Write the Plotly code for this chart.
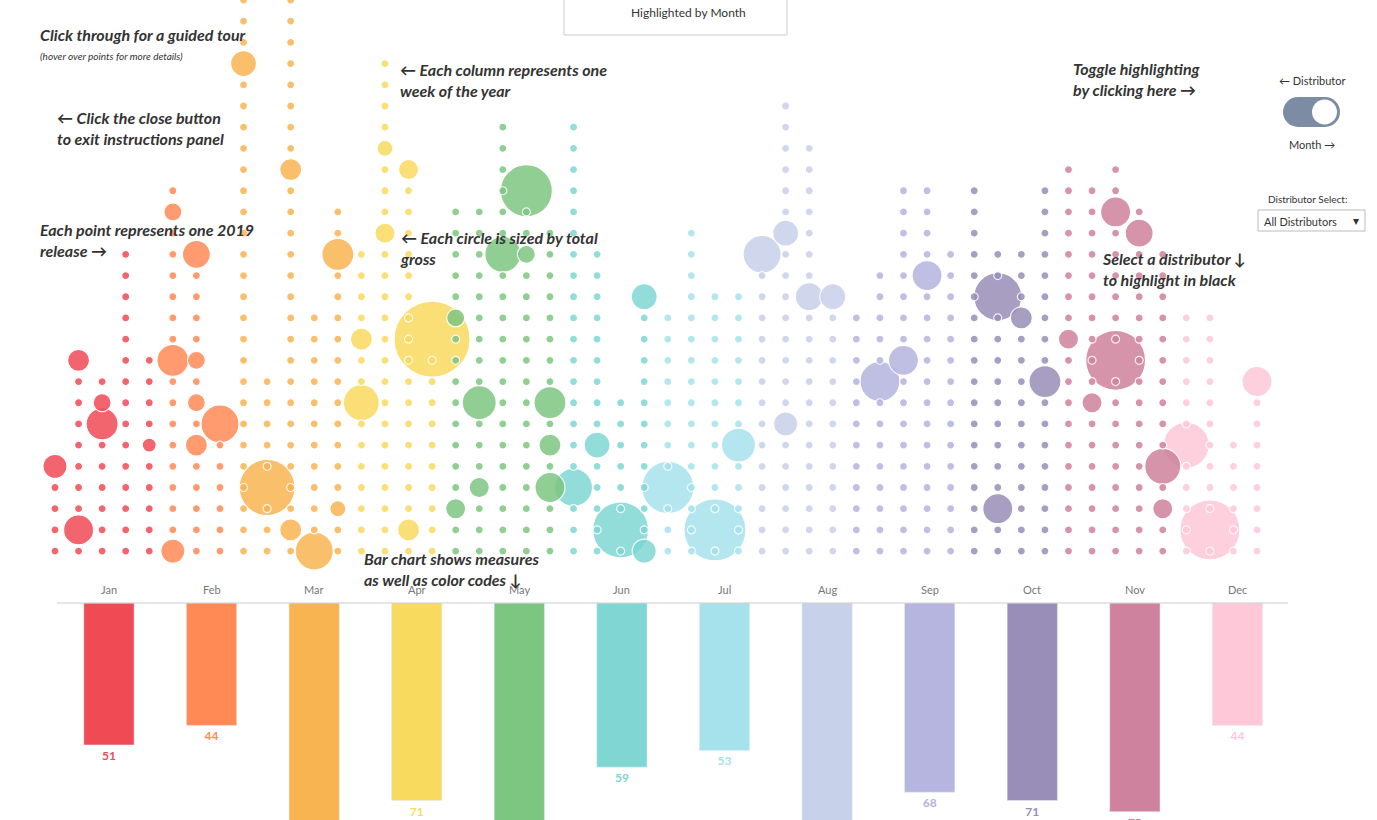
import plotly.graph_objects as go
import numpy as np

months = ["Jan","Feb","Mar","Apr","May","Jun","Jul","Aug","Sep","Oct","Nov","Dec"]
month_colors = ["#F04A55","#FF8A55","#F9B452","#F8DA5E","#7DC681","#80D6D3",
                "#A6E2EC","#C8D1EA","#B5B5DF","#988EB8","#CF829D","#FEC8D8"]
releases_per_month = [51,44,85,71,80,59,53,82,68,71,75,44]

# releases per week (52 weeks) and month index of each week
week_counts = [5,10,9,15,10,18,15,7,27,9,27,12,17,15,24,19,11,17,17,21,18,16,
               21,15,8,13,12,16,13,13,15,22,20,13,12,14,18,18,15,18,15,15,18,
               19,18,19,17,15,12,12,6,9]
week_month = [0]*5 + [1]*3 + [2]*5 + [3]*4 + [4]*5 + [5]*4 + [6]*4 + [7]*4 + [8]*5 + [9]*4 + [10]*5 + [11]*4
default_gross = 9.5  # $M, typical small release
# notable releases: (week, rank within week, gross $M)
big_week = [0,1,1,2,2,4,5,5,5,6,6,6,6,7,9,8,10,10,11,12,12,13,13,14,14,15,15,16,17,17,18,18,19,20,20,21,21,21,
            22,23,24,25,25,26,28,29,30,31,31,32,33,35,36,37,40,41,42,40,45,45,46,47,48,49,51,44,43,47]
big_rank = [4,9,1,7,6,5,9,0,16,14,5,9,7,6,3,23,18,1,0,14,2,10,7,15,19,18,1,10,2,11,7,3,14,17,14,7,3,5,
            3,5,1,12,0,3,1,5,14,15,6,12,12,8,9,13,12,11,8,2,9,16,15,4,5,1,8,7,10,2]
big_gross = [86,72,134,48,152,29,152,86,48,116,72,48,48,215,466,100,72,72,215,152,38,72,193,60,38,60,72,858,60,48,
             172,60,193,402,48,152,134,72,215,100,466,100,86,402,571,172,215,100,86,116,100,238,134,134,342,72,152,
             134,535,134,116,193,314,535,134,60,60,60]

rows_x, rows_y, rows_s, rows_c = [], [], [], []
big = {}
for w, r, g in zip(big_week, big_rank, big_gross):
    big[(w, r)] = g
for w, n in enumerate(week_counts):
    for r in range(n):
        rows_x.append(w); rows_y.append(r)
        rows_s.append(big.get((w, r), default_gross))
        rows_c.append(month_colors[week_month[w]])
sizes = [np.sqrt(g / 0.1486) for g in rows_s]

fig = go.Figure()
order = np.argsort(sizes)[::-1]
fig.add_trace(go.Scatter(
    x=[rows_x[i] for i in order], y=[rows_y[i] for i in order], mode="markers",
    marker=dict(size=[sizes[i] for i in order], color=[rows_c[i] for i in order],
                opacity=0.85, line=dict(color="white", width=1.2)),
    xaxis="x", yaxis="y", hoverinfo="skip", showlegend=False))

fig.add_trace(go.Bar(
    x=list(range(12)), y=releases_per_month, marker=dict(color=month_colors),
    width=0.49, text=["<b>%d</b>" % v for v in releases_per_month], textposition="outside",
    textfont=dict(color=month_colors, size=12, family="Lato"), cliponaxis=True,
    xaxis="x2", yaxis="y2", showlegend=False, hoverinfo="skip"))

fig.update_layout(
    width=1377, height=820, margin=dict(l=0, r=0, t=0, b=0),
    plot_bgcolor="white", paper_bgcolor="white",
    xaxis=dict(range=[-2.333, 56.09], visible=False, domain=[0, 1]),
    yaxis=dict(range=[-2.45, 26.0], visible=False, domain=[0.2646, 1]),
    xaxis2=dict(range=[-1.062, 12.36], visible=False, domain=[0, 1], anchor="y2"),
    yaxis2=dict(range=[78, 0], visible=False, domain=[0, 0.2646], anchor="x2"),
    font=dict(family="Lato"),
)
fig.add_shape(type="line", xref="paper", yref="paper", x0=57/1377, x1=1288/1377,
              y0=1-603/820, y1=1-603/820, line=dict(color="#cccccc", width=1))
for k, m in enumerate(months):
    fig.add_annotation(x=k, y=1-589/820, xref="x2", yref="paper", text=m, showarrow=False,
                       yanchor="middle", font=dict(size=11, color="#777"))

def note(x, y, t, size=15, anchor="left"):
    fig.add_annotation(x=x/1377, y=1-y/820, xref="paper", yref="paper", text=t, showarrow=False,
                       xanchor=anchor, yanchor="middle", align="left",
                       font=dict(size=size, color="#333", family="Lato"))

note(38, 34, "<b><i>Click through for a guided tour</i></b>", 16)
note(38, 56, "<i>(hover over points for more details)</i>", 10)
note(55, 128, "<b><i>← Click the close button<br>to exit instructions panel</i></b>", 16)
note(38, 240, "<b><i>Each point represents one 2019<br>release →</i></b>", 16)
note(398, 80, "<b><i>← Each column represents one<br>week of the year</i></b>", 16)
note(398, 248, "<b><i>← Each circle is sized by total<br>gross</i></b>", 16)
note(362, 569, "<b><i>Bar chart shows measures<br>as well as color codes ↓</i></b>", 16)
note(1071, 79, "<b><i>Toggle highlighting<br>by clicking here →</i></b>", 16)
note(1100, 269, "<b><i>Select a distributor ↓<br>to highlight in black</i></b>", 16)

fig.add_shape(type="rect", xref="paper", yref="paper", x0=564/1377, x1=787/1377,
              y0=1-35/820, y1=1.02, line=dict(color="#ccc", width=1), fillcolor="white")
note(688, 12, "Highlighted by Month", 12, "center")
note(1312, 81, "← Distributor", 11, "center")
note(1312, 145, "Month →", 11, "center")
tog = "#7C8CA5"
fig.add_shape(type="circle", xref="paper", yref="paper", x0=1283/1377, x1=1313/1377,
              y0=1-127/820, y1=1-97/820, fillcolor=tog, line=dict(width=0))
fig.add_shape(type="circle", xref="paper", yref="paper", x0=1310/1377, x1=1340/1377,
              y0=1-127/820, y1=1-97/820, fillcolor=tog, line=dict(width=0))
fig.add_shape(type="rect", xref="paper", yref="paper", x0=1298/1377, x1=1325/1377,
              y0=1-127/820, y1=1-97/820, fillcolor=tog, line=dict(width=0))
fig.add_shape(type="circle", xref="paper", yref="paper", x0=1312/1377, x1=1337/1377,
              y0=1-124.5/820, y1=1-99.5/820, fillcolor="white", line=dict(width=0))
note(1307, 199, "Distributor Select:", 10, "center")
fig.add_shape(type="rect", xref="paper", yref="paper", x0=1258/1377, x1=1365/1377,
              y0=1-231/820, y1=1-210/820, line=dict(color="#bbb", width=1), fillcolor="white")
note(1262, 221, "All Distributors", 11)
note(1356, 220, "▾", 12, "center")

fig.write_html("out.html", config={"displayModeBar": False},
               post_script="document.body.style.margin='0';document.body.style.overflow='hidden';")
